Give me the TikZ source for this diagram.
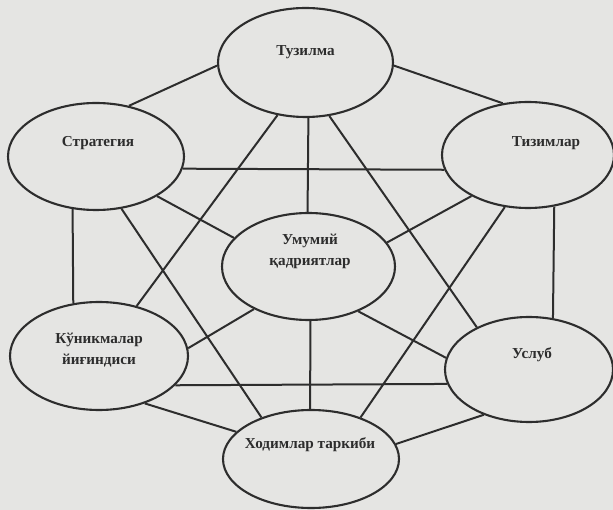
\documentclass[tikz,border=0pt]{standalone}
\usepackage{fontspec}
\setmainfont{Liberation Serif}
\usetikzlibrary{shapes.geometric}
\definecolor{bg}{RGB}{229,229,227}
\definecolor{ink}{RGB}{45,45,45}
\begin{document}
\begin{tikzpicture}[x=1pt,y=-1pt,
  oval/.style={ellipse, draw=ink, line width=2.1pt, inner sep=0pt},
  lbl/.style={text=ink, font=\bfseries\fontsize{15.2}{21}\selectfont, align=center, inner sep=0pt},
  link/.style={draw=ink, line width=2pt}]
\fill[bg] (0,0) rectangle (613,510);
\useasboundingbox (0,0) rectangle (613,510);
% ellipses
\node[oval, minimum width=175pt, minimum height=109pt] (A) at (305.5,62.5) {};
\node[oval, minimum width=176pt, minimum height=107pt] (S) at (96,156.5) {};
\node[oval, minimum width=172pt, minimum height=106pt] (T) at (528,155) {};
\node[oval, minimum width=173pt, minimum height=107pt] (U) at (308.5,266.5) {};
\node[oval, minimum width=178pt, minimum height=108pt] (K) at (99,356) {};
\node[oval, minimum width=168pt, minimum height=105pt] (Y) at (529,369.5) {};
\node[oval, minimum width=176pt, minimum height=98pt] (H) at (311,459) {};
% labels
\node[lbl] (tA) at (305.5,52) {Тузилма};
\node[lbl] (tS) at (98,143) {Стратегия};
\node[lbl] (tT) at (546,143) {Тизимлар};
\node[lbl] (tU) at (310,251.5) {Умумий\\қадриятлар};
\node[lbl] (tK) at (99,350) {Кўникмалар\\йиғиндиси};
\node[lbl] (tY) at (532,355) {Услуб};
\node[lbl] (tH) at (310,445) {Ходимлар таркиби};
% connectors
\draw[link] (A.182) -- (S.57.6);
\draw[link] (A.-2) -- (T.116.6);
\draw[link] (A.-87.9) -- (U.91.1);
\draw[link] (A.242.8) -- (K.53.3);
\draw[link] (A.-66.2) -- (Y.141.4);
\draw[link] (S.-8.9) -- (T.190);
\draw[link] (S.-33.8) -- (U.159.6);
\draw[link] (S.-64.1) -- (H.140.8);
\draw[link] (S.-114.8) -- (K.116.6);
\draw[link] (T.216.7) -- (U.17.3);
\draw[link] (T.246.3) -- (H.40.4);
\draw[link] (T.-63.9) -- (Y.65.4);
\draw[link] (U.218.7) -- (K.5.8);
\draw[link] (U.-42.1) -- (Y.172.2);
\draw[link] (U.-88.4) -- (H.91);
\draw[link] (K.-21.1) -- (Y.190.7);
\draw[link] (K.-46.7) -- (H.160.9);
\draw[link] (Y.225.3) -- (H.10.8);
\end{tikzpicture}
\end{document}
